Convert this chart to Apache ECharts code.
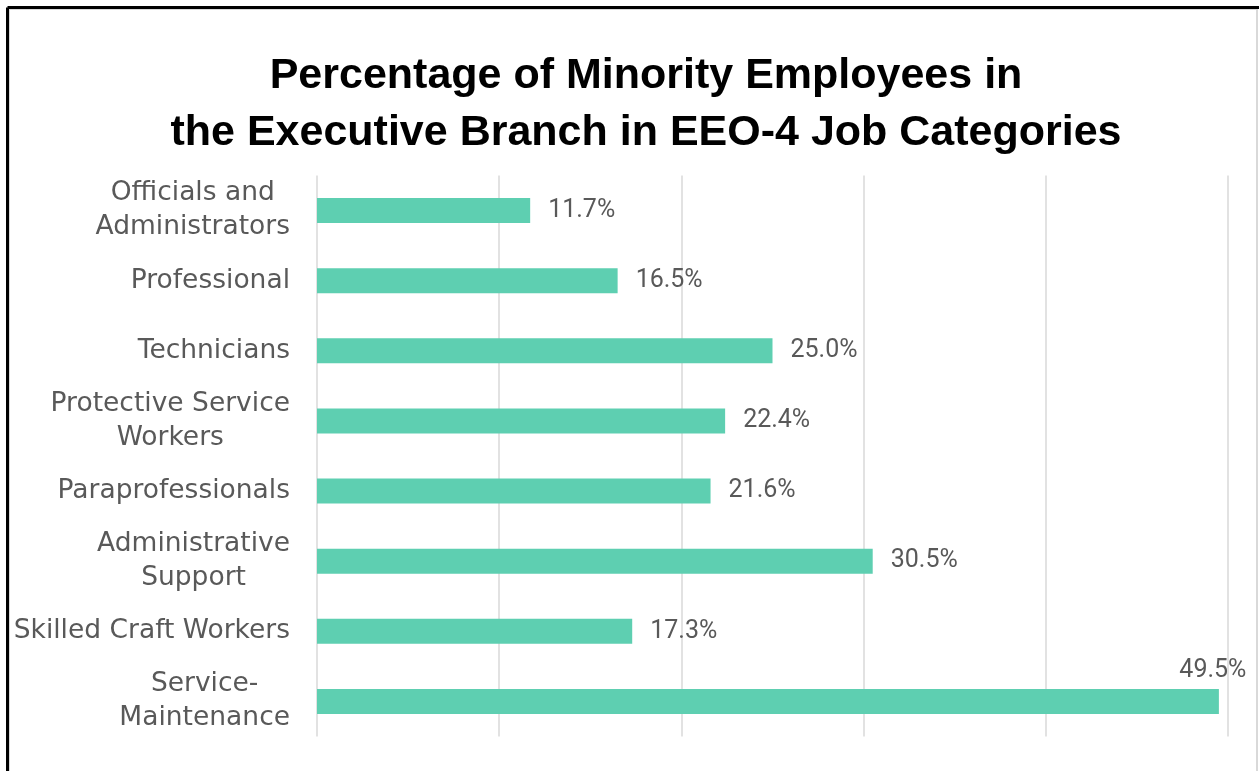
<!DOCTYPE html>
<html>
<head>
<meta charset="utf-8">
<script src="https://cdn.jsdelivr.net/npm/echarts@6/dist/echarts.min.js"></script>
<style>
  html, body { margin: 0; padding: 0; background: #fff; }
  #chart { width: 1259px; height: 771px; }
</style>
</head>
<body>
<div id="chart"></div>
<script>
// Job categories (top to bottom) and share of minority employees (%)
const categories = [
  'Officials and\nAdministrators',
  'Professional',
  'Technicians',
  'Protective Service\nWorkers',
  'Paraprofessionals',
  'Administrative\nSupport',
  'Skilled Craft Workers',
  'Service-\nMaintenance'
];
const minorityShare = [11.7, 16.5, 25.0, 22.4, 21.6, 30.5, 17.3, 49.5];
const titleLines = [
  'Percentage of Minority Employees in',
  'the Executive Branch in EEO-4 Job Categories'
];

const titleFont = 'Liberation Sans';
const labelFont = 'DejaVu Sans';
const valueFont = 'Roboto';

const seriesData = minorityShare.map((v, i) => {
  const item = { value: v };
  // the longest bar carries its label above the bar end
  if (i === minorityShare.length - 1) {
    item.label = {
      position: ['100%', 0],
      align: 'center',
      verticalAlign: 'bottom',
      offset: [-6, -6]
    };
  }
  return item;
});

const chart = echarts.init(document.getElementById('chart'), null, { renderer: 'canvas' });
chart.setOption({
  backgroundColor: '#ffffff',
  animation: false,
  title: {
    text: titleLines.join('\n'),
    left: 641,
    textAlign: 'center',
    top: 43,
    textStyle: {
      fontFamily: titleFont,
      fontSize: 43,
      fontWeight: 'bold',
      lineHeight: 57,
      color: '#000000'
    }
  },
  grid: { left: 317, right: 31, top: 175.5, bottom: 34.5 },
  xAxis: {
    type: 'value',
    min: 0,
    max: 50,
    interval: 10,
    axisLabel: { show: false },
    axisLine: { show: false },
    axisTick: { show: false },
    splitLine: { lineStyle: { color: '#d9d9d9', width: 1.5 } }
  },
  yAxis: {
    type: 'category',
    inverse: true,
    data: categories,
    axisLine: { show: false },
    axisTick: { show: false },
    axisLabel: {
      margin: 27,
      align: 'right',
      // two-line names: lines centred on each other, block right-aligned
      formatter: v => v.split('\n').map(s => '{c|' + s + '}').join('\n'),
      rich: {
        c: {
          align: 'center',
          fontFamily: labelFont,
          fontSize: 26.5,
          lineHeight: 34,
          color: '#595959'
        }
      }
    }
  },
  series: [{
    type: 'bar',
    data: seriesData,
    barWidth: 25,
    itemStyle: { color: '#5ecfb1' },
    label: {
      show: true,
      position: 'right',
      distance: 18,
      fontFamily: valueFont,
      fontSize: 25,
      color: '#595959',
      formatter: p => p.value.toFixed(1) + '%'
    }
  }],
  graphic: [
    // frame: heavy dark edge on top and left, thin grey edge on right
    { type: 'rect', shape: { x: 9, y: 9, width: 1248, height: 780 }, style: { fill: null, stroke: '#d9d9d9', lineWidth: 2 }, silent: true },
    { type: 'line', shape: { x1: 7.5, y1: 7.5, x2: 1259, y2: 7.5 }, style: { stroke: '#000', lineWidth: 3 }, silent: true },
    { type: 'line', shape: { x1: 7.5, y1: 7.5, x2: 7.5, y2: 771 }, style: { stroke: '#000', lineWidth: 3 }, silent: true }
  ]
});
</script>
</body>
</html>
